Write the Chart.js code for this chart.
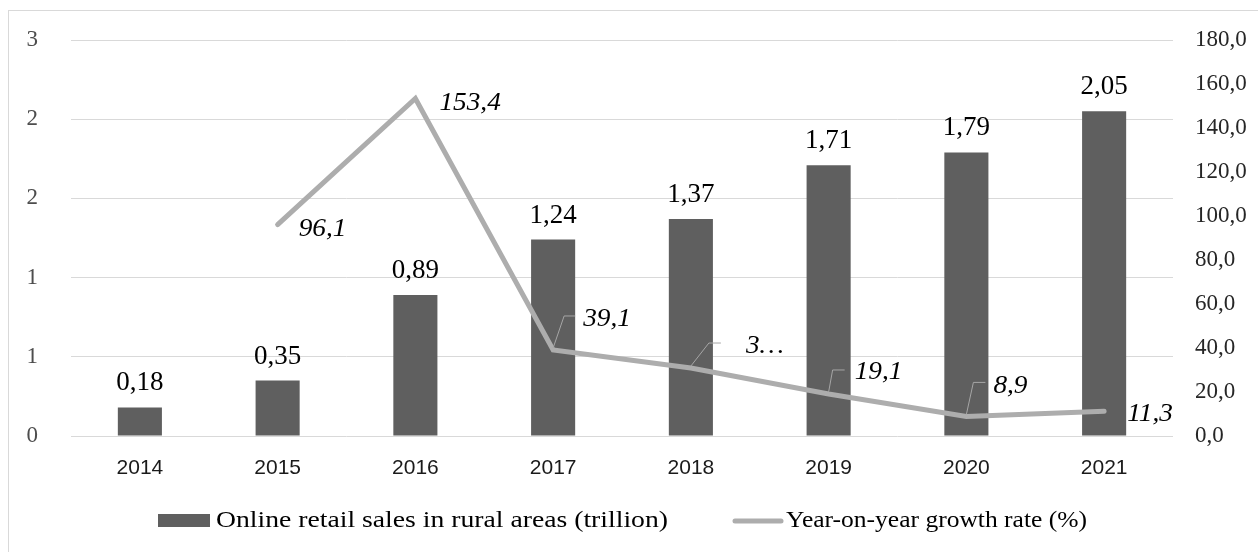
<!DOCTYPE html>
<html>
<head>
<meta charset="utf-8">
<script src="https://cdn.jsdelivr.net/npm/chart.js@4"></script>
<style>
  html, body { margin: 0; padding: 0; background: #fff; }
  canvas { display: block; }
</style>
</head>
<body>
<canvas id="chart" width="1258" height="552"></canvas>
<script>
// Rural online retail sales and their year-on-year growth, 2014-2021
const years = ['2014', '2015', '2016', '2017', '2018', '2019', '2020', '2021'];
const salesTrillion = [0.18, 0.35, 0.89, 1.24, 1.37, 1.71, 1.79, 2.05];
const growthPct = [null, 96.1, 153.4, 39.1, 30.9, 19.1, 8.9, 11.3];
// growth labels squeezed between bars keep only their first digit
const clippedGrowthLabels = [4];

const SERIF = '"Liberation Serif", "Times New Roman", serif';
const SANS = '"Liberation Sans", Arial, sans-serif';

const fmt = (v, digits) => v.toFixed(digits).replace('.', ',');

// draw text widened horizontally by factor sx, anchored at its left/centre point
function wideText(ctx, text, x, y, sx) {
  ctx.save();
  ctx.translate(x, y);
  ctx.scale(sx, 1);
  ctx.fillText(text, 0, 0);
  ctx.restore();
}

// label placement relative to each line point: text offset and optional leader elbow
const lineLabelLayout = [
  null,
  { dx: 21, dy: 11 },
  { dx: 24, dy: 11 },
  { dx: 30, dy: -24, leader: [11, -34, 22] },
  { dx: 55, dy: -15, leader: [18, -25, 30] },
  { dx: 26, dy: -15, leader: [4, -24, 16] },
  { dx: 27, dy: -23, leader: [7, -34, 19] },
  { dx: 23, dy: 10 }
];

const decor = {
  id: 'decor',
  beforeDraw(chart) {
    const { ctx, width, height } = chart;
    ctx.save();
    ctx.fillStyle = '#ffffff';
    ctx.fillRect(0, 0, width, height);
    ctx.strokeStyle = '#D9D9D9';
    ctx.lineWidth = 1;
    ctx.strokeRect(8.5, 10.5, width + 20, height + 20);
    ctx.restore();
  },
  afterDatasetsDraw(chart) {
    const ctx = chart.ctx;
    ctx.save();

    // value labels above the bars
    const barMeta = chart.getDatasetMeta(0);
    ctx.font = '27px ' + SERIF;
    ctx.fillStyle = '#000000';
    ctx.textAlign = 'center';
    ctx.textBaseline = 'alphabetic';
    barMeta.data.forEach((bar, i) => {
      ctx.fillText(fmt(salesTrillion[i], 2), bar.x, bar.y - 17);
    });

    // growth-rate labels with leader lines
    const lineMeta = chart.getDatasetMeta(1);
    ctx.font = 'italic 26px ' + SERIF;
    ctx.textAlign = 'left';
    lineMeta.data.forEach((pt, i) => {
      const v = growthPct[i];
      const o = lineLabelLayout[i];
      if (v == null || !o) return;
      let text = fmt(v, 1);
      if (clippedGrowthLabels.includes(i)) text = text[0] + '…';
      if (o.leader) {
        ctx.strokeStyle = '#A6A6A6';
        ctx.lineWidth = 1;
        ctx.beginPath();
        ctx.moveTo(pt.x, pt.y - 2);
        ctx.lineTo(pt.x + o.leader[0], pt.y + o.leader[1]);
        ctx.lineTo(pt.x + o.leader[2], pt.y + o.leader[1]);
        ctx.stroke();
      }
      ctx.fillStyle = '#000000';
      wideText(ctx, text, pt.x + o.dx, pt.y + o.dy, 1.05);
    });
    ctx.restore();
  },
  afterDraw(chart) {
    // legend row under the axis
    const ctx = chart.ctx;
    const [barSet, lineSet] = chart.data.datasets;
    ctx.save();
    ctx.font = '24px ' + SERIF;
    ctx.textAlign = 'left';
    ctx.textBaseline = 'alphabetic';

    ctx.fillStyle = barSet.backgroundColor;
    ctx.fillRect(158, 514, 52, 13);
    ctx.fillStyle = '#000000';
    wideText(ctx, barSet.label, 216, 527, 452 / ctx.measureText(barSet.label).width);

    ctx.strokeStyle = lineSet.borderColor;
    ctx.lineWidth = 5;
    ctx.lineCap = 'round';
    ctx.beginPath();
    ctx.moveTo(735, 521);
    ctx.lineTo(781, 521);
    ctx.stroke();
    wideText(ctx, lineSet.label, 786, 527, 301 / ctx.measureText(lineSet.label).width);
    ctx.restore();
  }
};

new Chart(document.getElementById('chart'), {
  data: {
    labels: years,
    datasets: [
      {
        type: 'bar',
        label: 'Online retail sales in rural areas (trillion)',
        data: salesTrillion,
        backgroundColor: '#5F5F5F',
        yAxisID: 'y',
        order: 1,
        categoryPercentage: 1,
        barPercentage: 0.32
      },
      {
        type: 'line',
        label: 'Year-on-year growth rate (%)',
        data: growthPct,
        borderColor: '#ADADAD',
        borderWidth: 5,
        pointRadius: 0,
        pointHoverRadius: 0,
        tension: 0,
        borderJoinStyle: 'miter',
        borderCapStyle: 'round',
        yAxisID: 'y1',
        order: 0
      }
    ]
  },
  options: {
    responsive: false,
    animation: false,
    events: [],
    layout: { autoPadding: false, padding: { left: 8, top: 40, right: 0, bottom: 0 } },
    plugins: {
      legend: { display: false },
      tooltip: { enabled: false }
    },
    scales: {
      x: {
        grid: { display: false },
        border: { display: false },
        ticks: {
          padding: 12,
          color: '#1A1A1A',
          font: { family: SANS, size: 21 },
          maxRotation: 0,
          autoSkip: false
        },
        afterFit(scale) { scale.height = 116; }
      },
      y: {
        position: 'left',
        min: 0,
        max: 2.5,
        ticks: {
          stepSize: 0.5,
          padding: 0,
          color: '#4D4D4D',
          font: { family: SERIF, size: 23 },
          callback: (v) => String(Math.round(v))
        },
        // an invisible tick mark keeps the labels clear of the plot
        grid: { color: '#D9D9D9', lineWidth: 1, drawTicks: true, tickLength: 33, tickColor: 'rgba(0,0,0,0)' },
        border: { display: false },
        afterFit(scale) { scale.width = 63; }
      },
      y1: {
        position: 'right',
        min: 0,
        max: 180,
        ticks: {
          stepSize: 20,
          padding: 0,
          color: '#262626',
          font: { family: SERIF, size: 23 },
          callback: (v) => fmt(v, 1)
        },
        grid: { display: false, drawTicks: true, tickLength: 22, tickColor: 'rgba(0,0,0,0)' },
        border: { display: false },
        afterFit(scale) { scale.width = 85; }
      }
    }
  },
  plugins: [decor]
});
</script>
</body>
</html>
